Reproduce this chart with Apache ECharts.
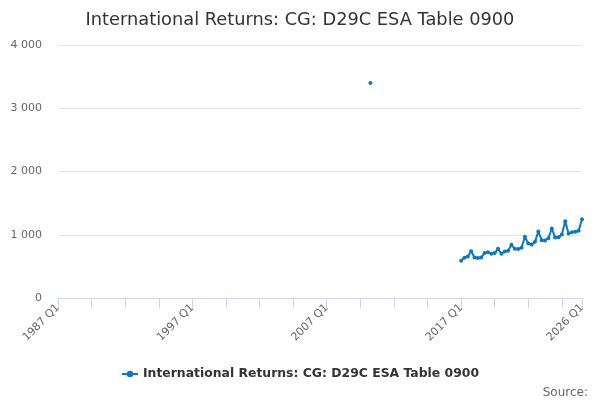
<!DOCTYPE html>
<html>
<head>
<meta charset="utf-8">
<script src="https://cdn.jsdelivr.net/npm/echarts@6/dist/echarts.min.js"></script>
<style>
  html, body { margin: 0; padding: 0; background: #fff; }
  #chart { width: 600px; height: 400px; }
</style>
</head>
<body>
<div id="chart"></div>
<script>
// quarterly categories, 1987 Q1 .. 2026 Q1
var firstYear = 1987, lastYear = 2026;
var quarters = [];
for (var y = firstYear; y <= lastYear; y++) {
    for (var q = 1; q <= 4; q++) {
        if (y === lastYear && q > 1) break;
        quarters.push(y + ' Q' + q);
    }
}

// lone early observation
var earlyLabel = '2010 Q2';
var earlyValue = 3400;

// continuous run from 2017 Q1
var recentStart = '2017 Q1';
var recentValues = [
    589, 636, 657, 741,
    641, 631, 641, 710,
    725, 699, 710, 778,
    699, 736, 746, 841,
    778, 773, 794, 967,
    862, 846, 888, 1051,
    915, 909, 946, 1099,
    957, 962, 1004, 1214,
    1020, 1041, 1046, 1062,
    1246
];

var yTicks = [0, 1000, 2000, 3000, 4000];

var seriesData = quarters.map(function () { return null; });
seriesData[quarters.indexOf(earlyLabel)] = earlyValue;
var s0 = quarters.indexOf(recentStart);
recentValues.forEach(function (v, i) { seriesData[s0 + i] = v; });

var lastIdx = quarters.length - 1;
var font = 'DejaVu Sans';
var seriesName = 'International Returns: CG: D29C ESA Table 0900';

var chart = echarts.init(document.getElementById('chart'));
chart.setOption({
    backgroundColor: '#fff',
    animation: false,
    title: [
        {
            text: 'International Returns: CG: D29C ESA Table 0900',
            left: 'center',
            top: 6,
            textStyle: { fontFamily: font, fontSize: 17.8, fontWeight: 'normal', color: '#333' }
        },
        {
            text: 'Source:',
            right: 7,
            top: 382,
            textStyle: { fontFamily: font, fontSize: 12, fontWeight: 'normal', color: '#666' }
        }
    ],
    legend: {
        top: 363,
        left: 'center',
        itemWidth: 16,
        itemHeight: 8,
        itemGap: 5,
        textStyle: { fontFamily: font, fontSize: 12.4, fontWeight: 'bold', color: '#333' },
        data: [seriesName]
    },
    grid: { left: 58, right: 18, top: 45, bottom: 102, containLabel: false },
    xAxis: {
        type: 'category',
        data: quarters,
        boundaryGap: false,
        axisLine: { lineStyle: { color: '#ccd6eb', width: 1 } },
        axisTick: {
            length: 10,
            lineStyle: { color: '#ccd6eb' },
            interval: function (i) { return i % 10 === 0 || i === lastIdx; }
        },
        axisLabel: {
            rotate: 45,
            margin: 8,
            fontFamily: font,
            fontSize: 11,
            color: '#666',
            interval: function (i) { return i % 40 === 0 || i === lastIdx; }
        },
        splitLine: { show: false }
    },
    yAxis: {
        type: 'value',
        min: yTicks[0],
        max: yTicks[yTicks.length - 1],
        interval: 1000,
        axisLine: { show: false },
        axisTick: { show: false },
        axisLabel: {
            margin: 16,
            fontFamily: font,
            fontSize: 11,
            color: '#666',
            formatter: function (v) { return String(v).replace(/\B(?=(\d{3})+(?!\d))/g, ' '); }
        },
        splitLine: { lineStyle: { color: '#e6e6e6' } }
    },
    series: [{
        name: seriesName,
        type: 'line',
        data: seriesData,
        connectNulls: false,
        showSymbol: true,
        showAllSymbol: true,
        symbol: 'circle',
        symbolSize: 4,
        lineStyle: { width: 2, color: '#0e78bd' },
        itemStyle: { color: '#0e78bd' }
    }]
});
</script>
</body>
</html>
